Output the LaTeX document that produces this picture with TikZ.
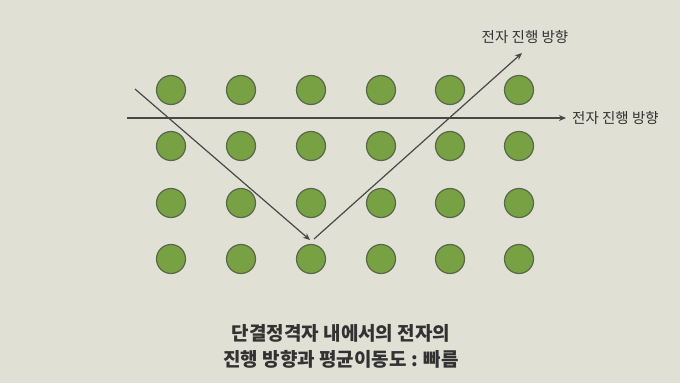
\documentclass[tikz,border=0pt]{standalone}
\usepackage{fontspec}
\newfontfamily\kr{Noto Sans CJK KR}
\usetikzlibrary{arrows.meta}
\definecolor{bg}{RGB}{224,224,213}
\definecolor{atomfill}{RGB}{119,161,66}
\definecolor{atomline}{RGB}{88,104,74}
\definecolor{linec}{RGB}{72,72,72}
\definecolor{txt}{RGB}{50,50,50}
\begin{document}
\begin{tikzpicture}[x=1pt,y=-1pt,
  atom/.style={circle,draw=atomline,fill=atomfill,line width=1.2pt,minimum size=29pt,inner sep=0pt},
  arrowline/.style={draw=linec,line width=1.2pt,-{Stealth[length=7pt,width=6pt]}},
  lbl/.style={text=txt,font=\kr\fontsize{14.5}{16}\selectfont,inner sep=0pt},
  captext/.style={text=txt,font=\kr\bfseries\fontsize{19}{26}\selectfont,align=center,inner sep=0pt}]
\fill[bg] (0,0) rectangle (680,383);
\useasboundingbox (0,0) rectangle (680,383);
\foreach \r/\y in {1/90,2/146,3/203,4/259}{
  \foreach \c/\x in {1/171,2/241,3/311,4/381,5/450,6/519}{
    \node[atom] (a\r\c) at (\x,\y) {};
  }
}
\coordinate (hs) at (127,118);
\node[lbl,anchor=west] (hl) at (572,118) {전자 진행 방향};
\draw[arrowline] (hs) -- ([xshift=-6pt]hl.west);
\coordinate (ds) at (135,89);
\coordinate (dv) at (310,240);
\coordinate (ds2) at (314,239);
\coordinate (de) at (522,53);
\node[lbl] (tl) at (525,37) {전자 진행 방향};
\draw[arrowline] (ds) -- (dv);
\draw[arrowline] (ds2) -- (de);
\node[captext] (capt) at (341,346) {단결정격자 내에서의 전자의\\진행 방향과 평균이동도 : 빠름};
\end{tikzpicture}
\end{document}
